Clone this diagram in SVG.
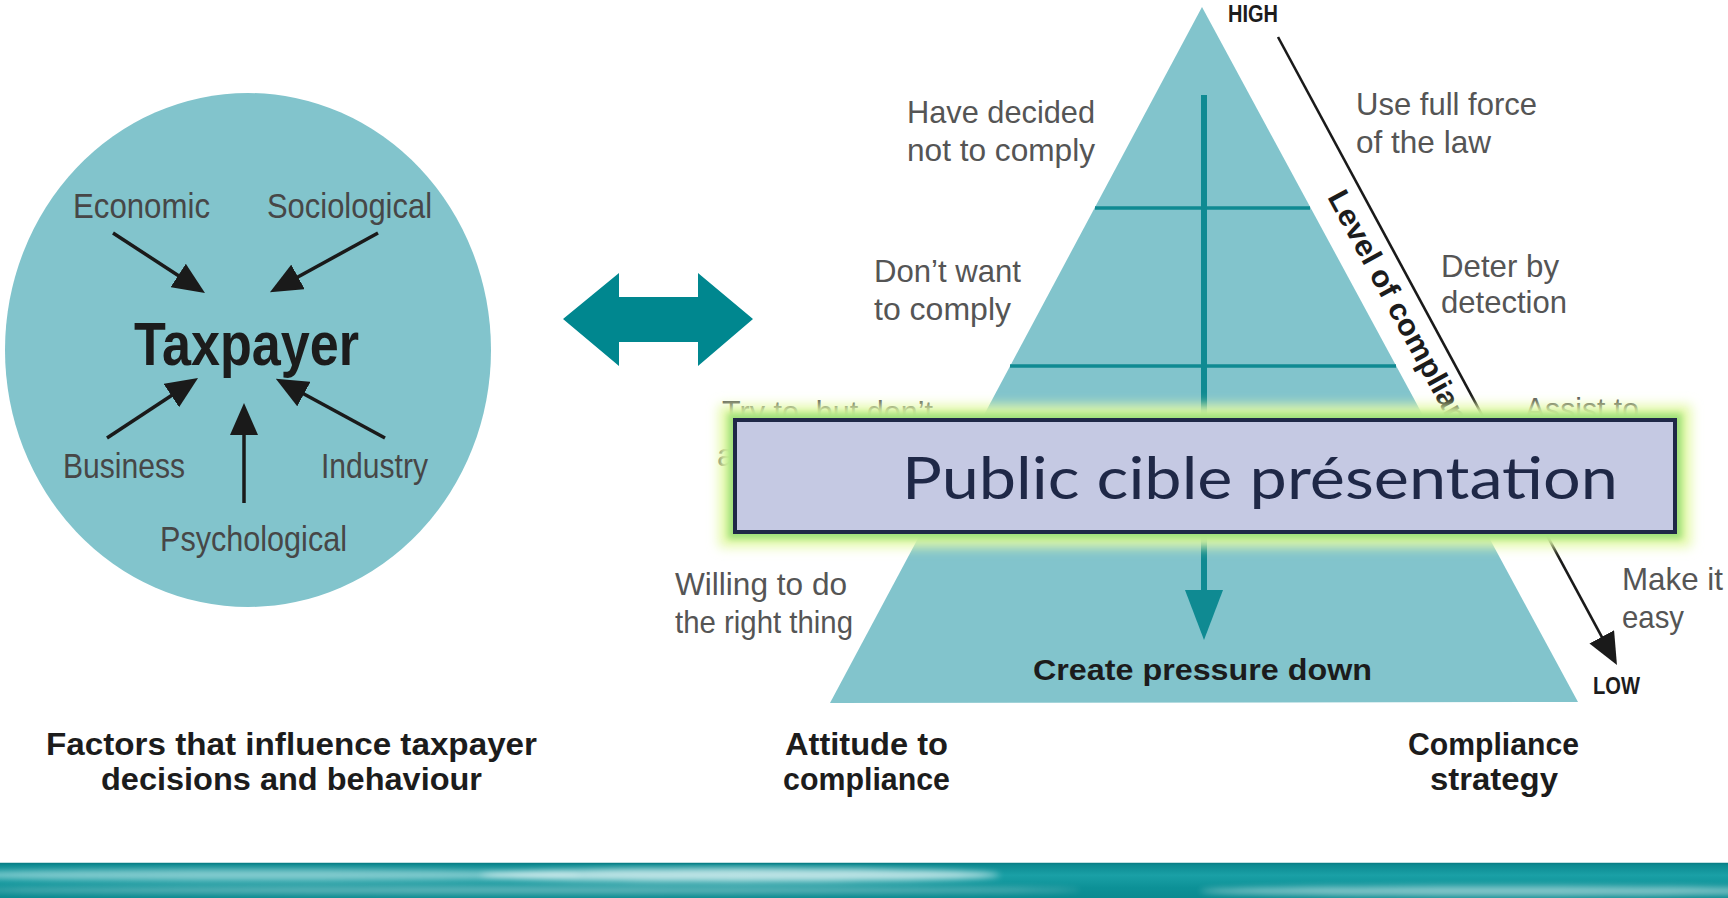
<svg xmlns="http://www.w3.org/2000/svg" width="1728" height="898" viewBox="0 0 1728 898">
<defs>
<style>
.lbl{font-family:"Liberation Sans Narrow","Liberation Sans",Arial,sans-serif;fill:#555555;font-size:32px;}
.clbl{font-family:"Liberation Sans Narrow","Liberation Sans",Arial,sans-serif;fill:#474747;font-size:35px;}
.bold{font-family:"Liberation Sans Narrow","Liberation Sans",Arial,sans-serif;font-weight:bold;fill:#1c1c1c;}
.blk{stroke:#1a1a1a;stroke-width:3.5;fill:none;}
.teal{fill:#82c4cc;}
.tline{stroke:#0f8a92;fill:none;}
</style>
<marker id="blackhead" markerUnits="userSpaceOnUse" viewBox="0 0 32 28" markerWidth="32" markerHeight="28" refX="22" refY="14" orient="auto">
<path d="M0,0 L32,14 L0,28 Z" fill="#1a1a1a"/>
</marker>
<marker id="tealhead" markerUnits="userSpaceOnUse" viewBox="0 0 50 38" markerWidth="50" markerHeight="38" refX="4" refY="19" orient="auto">
<path d="M0,0 L50,19 L0,38 Z" fill="#0f8a92"/>
</marker>
<filter id="blur6" x="-10%" y="-50%" width="120%" height="200%"><feGaussianBlur stdDeviation="6"/></filter>
<filter id="blur3" x="-10%" y="-50%" width="120%" height="200%"><feGaussianBlur stdDeviation="3"/></filter>
<linearGradient id="band" x1="0" y1="0" x2="0" y2="1">
<stop offset="0" stop-color="#0a868d"/>
<stop offset="0.35" stop-color="#1aa0a6"/>
<stop offset="0.7" stop-color="#0d9197"/>
<stop offset="1" stop-color="#0b8a90"/>
</linearGradient>
</defs>

<rect x="0" y="0" width="1728" height="898" fill="#ffffff"/>

<g id="taxpayer-circle">
<ellipse class="teal" cx="248" cy="350" rx="243" ry="257"/>
<text class="clbl" x="73" y="218" textLength="137" lengthAdjust="spacingAndGlyphs">Economic</text>
<text class="clbl" x="267" y="218" textLength="165" lengthAdjust="spacingAndGlyphs">Sociological</text>
<text class="bold" x="134" y="365" font-size="62" textLength="225" lengthAdjust="spacingAndGlyphs">Taxpayer</text>
<text class="clbl" x="63" y="478" textLength="122" lengthAdjust="spacingAndGlyphs">Business</text>
<text class="clbl" x="321" y="478" textLength="107" lengthAdjust="spacingAndGlyphs">Industry</text>
<text class="clbl" x="160" y="551" textLength="187" lengthAdjust="spacingAndGlyphs">Psychological</text>
</g>

<g id="connectors">
<line class="blk" x1="113" y1="233" x2="196.6" y2="287.5" marker-end="url(#blackhead)"/>
<line class="blk" x1="378" y1="233" x2="278.7" y2="287.5" marker-end="url(#blackhead)"/>
<line class="blk" x1="107" y1="438" x2="189.7" y2="383.5" marker-end="url(#blackhead)"/>
<line class="blk" x1="385" y1="438" x2="284.6" y2="383.5" marker-end="url(#blackhead)"/>
<line class="blk" x1="244" y1="503" x2="244" y2="413" marker-end="url(#blackhead)"/>
<polygon id="double-arrow" points="563,319 619,273 619,297 698,297 698,273 753,319 698,366 698,342 619,342 619,366" fill="#00878f"/>
<line x1="1278" y1="37" x2="1612.2" y2="656.2" stroke="#1a1a1a" stroke-width="2.6" marker-end="url(#blackhead)"/>
</g>

<g id="pyramid">
<polygon class="teal" points="1202,7 1578,702 830,703"/>
<line class="tline" stroke-width="3.5" x1="1095" y1="208" x2="1310" y2="208"/>
<line class="tline" stroke-width="3.5" x1="1010" y1="366" x2="1396" y2="366"/>
<line class="tline" stroke-width="6" x1="1204" y1="95" x2="1204" y2="594" marker-end="url(#tealhead)"/>
<text class="bold" x="1033" y="680" font-size="29" textLength="339" lengthAdjust="spacingAndGlyphs">Create pressure down</text>
</g>

<g id="scale-labels">
<text class="bold" x="1228" y="22" font-size="23" textLength="50" lengthAdjust="spacingAndGlyphs">HIGH</text>
<text class="bold" x="1593" y="694" font-size="23" textLength="47" lengthAdjust="spacingAndGlyphs">LOW</text>
<text class="bold" font-size="30" transform="translate(1327 197) rotate(61.6)" textLength="262" lengthAdjust="spacingAndGlyphs">Level of complian</text>
</g>

<g id="attitudes">
<text class="lbl" x="907" y="123" textLength="188" lengthAdjust="spacingAndGlyphs">Have decided</text>
<text class="lbl" x="907" y="161" textLength="188" lengthAdjust="spacingAndGlyphs">not to comply</text>
<text class="lbl" x="874" y="282" textLength="147" lengthAdjust="spacingAndGlyphs">Don’t want</text>
<text class="lbl" x="874" y="320" textLength="137" lengthAdjust="spacingAndGlyphs">to comply</text>
<text class="lbl" x="722" y="423" textLength="211" lengthAdjust="spacingAndGlyphs">Try to, but don’t</text>
<text class="lbl" x="717" y="466">a</text>
<text class="lbl" x="675" y="595" textLength="172" lengthAdjust="spacingAndGlyphs">Willing to do</text>
<text class="lbl" x="675" y="633" textLength="178" lengthAdjust="spacingAndGlyphs">the right thing</text>
</g>

<g id="strategies">
<text class="lbl" x="1356" y="115" textLength="181" lengthAdjust="spacingAndGlyphs">Use full force</text>
<text class="lbl" x="1356" y="153" textLength="135" lengthAdjust="spacingAndGlyphs">of the law</text>
<text class="lbl" x="1441" y="277" textLength="118" lengthAdjust="spacingAndGlyphs">Deter by</text>
<text class="lbl" x="1441" y="313" textLength="126" lengthAdjust="spacingAndGlyphs">detection</text>
<text class="lbl" x="1525" y="420" textLength="114" lengthAdjust="spacingAndGlyphs">Assist to</text>
<text class="lbl" x="1622" y="590" textLength="101" lengthAdjust="spacingAndGlyphs">Make it</text>
<text class="lbl" x="1622" y="628" textLength="62" lengthAdjust="spacingAndGlyphs">easy</text>
</g>

<g id="captions">
<text class="bold" x="46" y="755" font-size="32" textLength="491" lengthAdjust="spacingAndGlyphs">Factors that influence taxpayer</text>
<text class="bold" x="101" y="790" font-size="32" textLength="381" lengthAdjust="spacingAndGlyphs">decisions and behaviour</text>
<text class="bold" x="785" y="755" font-size="32" textLength="163" lengthAdjust="spacingAndGlyphs">Attitude to</text>
<text class="bold" x="783" y="790" font-size="32" textLength="167" lengthAdjust="spacingAndGlyphs">compliance</text>
<text class="bold" x="1408" y="755" font-size="32" textLength="171" lengthAdjust="spacingAndGlyphs">Compliance</text>
<text class="bold" x="1430" y="790" font-size="32" textLength="128" lengthAdjust="spacingAndGlyphs">strategy</text>
</g>

<g id="title-box">
<rect x="719" y="405" width="972" height="142" fill="#e4f9a8" filter="url(#blur6)"/>
<rect x="728" y="413" width="954" height="126" fill="#9fe07a" filter="url(#blur3)"/>
<rect x="735" y="420" width="940" height="112" fill="#c5c9e3" stroke="#1f2847" stroke-width="4"/>
<text x="902" y="499" font-family="Lato,'Open Sans','Liberation Sans',sans-serif" font-size="58" fill="#1f2847" textLength="716" lengthAdjust="spacingAndGlyphs">Public cible présentation</text>
</g>

<g id="footer-band">
<rect x="0" y="863" width="1728" height="35" fill="url(#band)"/>
<g filter="url(#blur3)" fill="#ffffff">
<ellipse cx="260" cy="875" rx="320" ry="6" opacity="0.45"/>
<ellipse cx="740" cy="875" rx="260" ry="7" opacity="0.7"/>
<ellipse cx="520" cy="890" rx="560" ry="4" opacity="0.35"/>
<ellipse cx="1500" cy="891" rx="300" ry="5" opacity="0.5"/>
</g>
<line x1="0" y1="863.5" x2="1728" y2="863.5" stroke="#0a7f86" stroke-width="1.5"/>
</g>
</svg>
